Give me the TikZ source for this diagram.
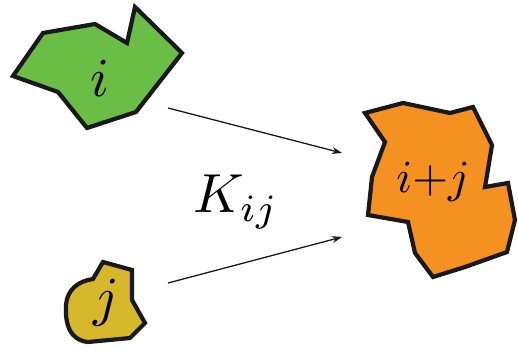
\documentclass[tikz,border=0pt]{standalone}
\usepackage{tikz}
\usetikzlibrary{arrows.meta}
\definecolor{clustergreen}{RGB}{106,189,69}
\definecolor{clusterorange}{RGB}{244,145,33}
\definecolor{clusteryellow}{RGB}{214,184,42}
\tikzset{
  cluster/.style={draw=black!90, line width=4.2pt, line join=miter},
  clabel/.style={scale=5.5, inner sep=0pt},
  rate/.style={-{Stealth[length=10pt,width=7pt]}, line width=1.3pt, draw=black!90}
}
\begin{document}
\begin{tikzpicture}[x=1pt, y=-1pt]
\useasboundingbox (0,0) rectangle (518,348);
\filldraw[cluster, fill=clustergreen] (13,76) -- (43,33) -- (95,24) -- (127,43) -- (135,7) -- (182,53) -- (136,112) -- (87,128) -- (58,92) -- cycle;
\filldraw[cluster, fill=clusterorange] (365,113) -- (403,103) -- (450,113) -- (473,107) -- (492,145) -- (485,187) -- (508,183) -- (515,220) -- (507,252) -- (465,267) -- (433,277) -- (415,253) -- (408,222) -- (368,215) -- (372,177) -- (385,142) -- cycle;
\filldraw[cluster, fill=clusteryellow] (103,262) -- (132,270) -- (132,300) -- (145,323) -- (130,338) -- (88,342) .. controls (70,340) and (65,325) .. (66,305) .. controls (67,290) and (78,281) .. (93,279) -- cycle;
\node[clabel] (i) at (100,78) {$i$};
\node[clabel, scale=4.6/5.5] (ij) at (433,182) {$i{+}j$};
\node[clabel] (j) at (106,303) {$j$};
\node[clabel] (K) at (236,202) {$K_{ij}$};
\coordinate (a1) at (168,108);
\coordinate (b1) at (342,153);
\coordinate (a2) at (168,283);
\coordinate (b2) at (342,237);
\draw [rate] (a1) -- (b1);
\draw [rate] (a2) -- (b2);
\end{tikzpicture}
\end{document}
